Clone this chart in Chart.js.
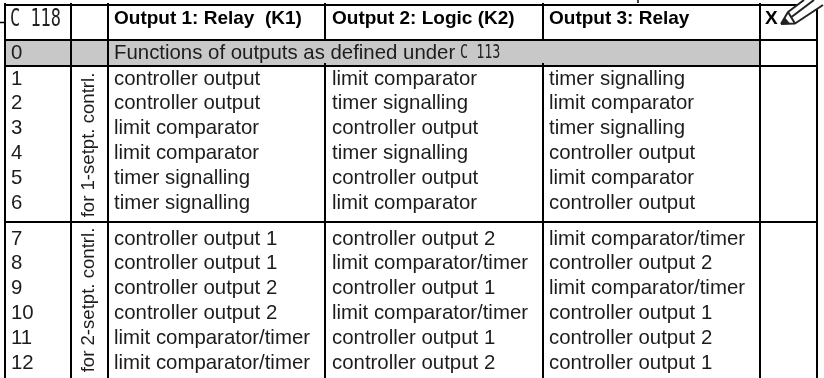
<!DOCTYPE html>
<html><head><meta charset="utf-8">
<style>html,body{margin:0;padding:0;background:#fff}canvas{display:block}</style>
<script src="https://cdn.jsdelivr.net/npm/chart.js@4/dist/chart.umd.min.js"></script>
</head><body><canvas id="c" width="824" height="378"></canvas>
<script>
const paramCode = "C 118";
const refCode = "C 113";
const headers = ["Output 1: Relay  (K1)", "Output 2: Logic (K2)", "Output 3: Relay"];
const markColumn = "X";
const row0Text = "Functions of outputs as defined under";
const rowNumbers = ["1","2","3","4","5","6","7","8","9","10","11","12"];
const groupLabels = ["for 1-setpt. contrl.", "for 2-setpt. contrl."];
const output1 = ["controller output","controller output","limit comparator","limit comparator","timer signalling","timer signalling",
  "controller output 1","controller output 1","controller output 2","controller output 2","limit comparator/timer","limit comparator/timer"];
const output2 = ["limit comparator","timer signalling","controller output","timer signalling","controller output","limit comparator",
  "controller output 2","limit comparator/timer","controller output 1","limit comparator/timer","controller output 1","controller output 2"];
const output3 = ["timer signalling","limit comparator","timer signalling","controller output","limit comparator","controller output",
  "limit comparator/timer","controller output 2","limit comparator/timer","controller output 1","controller output 2","controller output 1"];

const colEdges = [5, 71, 108, 325, 543, 760, 817];
const rowEdges = [5, 40, 66, 222];
const rowCentres = [79,103.5,128,153,178,203, 239,263.5,288.5,313,338,363];
const TEXT = '#1c1c1c';
const FONT = '"Liberation Sans", Arial, sans-serif';
const FS = 20.4, FSB = 19, FSR = 18.6;

function textPoints(col){ return rowCentres.map(y=>({x:col,y})); }

const tablePlugin = {
  id:'table',
  beforeDraw(ch){
    const c=ch.ctx; c.save(); c.fillStyle='#fff'; c.fillRect(0,0,824,378); c.restore();
  },
  beforeDatasetsDraw(ch){
    const c=ch.ctx, X=ch.scales.x, Y=ch.scales.y;
    c.save(); c.fillStyle='#c8c8c8';
    const t=Y.getPixelForValue(rowEdges[1])+1, b=Y.getPixelForValue(rowEdges[2])-1;
    const seg=[[colEdges[0],colEdges[1]],[colEdges[1],colEdges[2]],[colEdges[2],colEdges[5]]];
    seg.forEach(([a,d])=>{const l=X.getPixelForValue(a)+1,r=X.getPixelForValue(d)-1;c.fillRect(l,t,r-l,b-t);});
    c.fillStyle='#000';
    [colEdges[3],colEdges[4]].forEach(v=>{const x=X.getPixelForValue(v);c.fillRect(x-1,b-2,2,2);});
    c.restore();
  },
  afterDatasetsDraw(ch){
    const c=ch.ctx, X=ch.scales.x, Y=ch.scales.y;
    c.save(); c.textBaseline='middle'; c.textAlign='left';
    // body rows
    c.fillStyle=TEXT; c.font=FS+'px '+FONT;
    ch.data.datasets.forEach(ds=>{
      ds.data.forEach((p,i)=>{
        c.fillText(ds.labels[i], X.getPixelForValue(p.x), Y.getPixelForValue(p.y));
      });
    });
    // row 0
    const r0=53;
    c.fillText("0", X.getPixelForValue(11), Y.getPixelForValue(r0));
    c.fillText(row0Text, X.getPixelForValue(114), Y.getPixelForValue(r0));
    // headers
    c.fillStyle='#000'; c.font='bold '+FSB+'px '+FONT;
    [114,332,549].forEach((x,i)=>c.fillText(headers[i],X.getPixelForValue(x),Y.getPixelForValue(19)));
    c.fillText(markColumn,X.getPixelForValue(765),Y.getPixelForValue(19));
    // codes
    c.fillStyle='#222';
    c.font='22px "DejaVu Sans Mono", monospace';
    c.save(); c.translate(X.getPixelForValue(10),Y.getPixelForValue(19)); c.scale(0.77,1.15); c.fillText(paramCode,0,0); c.restore();
    c.font='20px "DejaVu Sans Mono", monospace';
    c.save(); c.translate(X.getPixelForValue(460),Y.getPixelForValue(52.5)); c.scale(0.67,1); c.fillText(refCode,0,0); c.restore();
    // rotated group labels
    c.fillStyle=TEXT; c.font=FSR+'px '+FONT; c.textAlign='center';
    [[145],[300]].forEach(([y],i)=>{
      c.save(); c.translate(X.getPixelForValue(89),Y.getPixelForValue(y)); c.rotate(-Math.PI/2);
      c.fillText(groupLabels[i],0,0); c.restore();
    });
    // stubs outside the table
    c.strokeStyle='#000'; c.lineWidth=1.5;
    c.beginPath(); c.moveTo(0,22.5); c.lineTo(5,22.5); c.moveTo(638,0); c.lineTo(638,3); c.stroke();
    // pencil icon
    c.lineJoin='round'; c.lineWidth=2; c.strokeStyle='#222'; c.fillStyle='#fff';
    c.beginPath(); c.moveTo(781,24); c.lineTo(788,12); c.lineTo(806,-2); c.lineTo(826,-2); c.lineTo(826,3); c.lineTo(795,24); c.closePath(); c.fill();
    c.beginPath(); c.moveTo(781,24); c.lineTo(788,12); c.lineTo(804,0); c.moveTo(781,24); c.lineTo(795,23.5); c.lineTo(823,5);
    c.moveTo(788,12); c.lineTo(795,23.5); c.moveTo(791.5,17); c.lineTo(814,0); c.stroke();
    c.fillStyle='#222'; c.beginPath(); c.moveTo(781,24); c.lineTo(785,17.5); c.lineTo(790,23.5); c.closePath(); c.fill();
    c.restore();
  }
};

new Chart(document.getElementById('c'),{
  type:'scatter',
  data:{datasets:[
    {label:'Setpoint',labels:rowNumbers,data:textPoints(11),pointRadius:0},
    {label:'Output 1',labels:output1,data:textPoints(114),pointRadius:0},
    {label:'Output 2',labels:output2,data:textPoints(332),pointRadius:0},
    {label:'Output 3',labels:output3,data:textPoints(549),pointRadius:0}
  ]},
  options:{
    responsive:false,animation:false,
    layout:{padding:{left:5,right:6,top:3,bottom:0}},
    plugins:{legend:{display:false},tooltip:{enabled:false}},
    scales:{
      x:{type:'linear',min:5,max:818,
        grid:{color:'#000',lineWidth:2,drawTicks:false},border:{display:false},
        ticks:{display:false},
        afterBuildTicks:s=>{s.ticks=colEdges.map(value=>({value}));},
        afterFit:s=>{s.height=0;}},
      y:{type:'linear',min:3,max:378,reverse:true,
        grid:{color:'#000',lineWidth:2,drawTicks:false},border:{display:false},
        ticks:{display:false},
        afterBuildTicks:s=>{s.ticks=rowEdges.map(value=>({value}));},
        afterFit:s=>{s.width=0;}}
    }
  },
  plugins:[tablePlugin]
});
</script></body></html>
